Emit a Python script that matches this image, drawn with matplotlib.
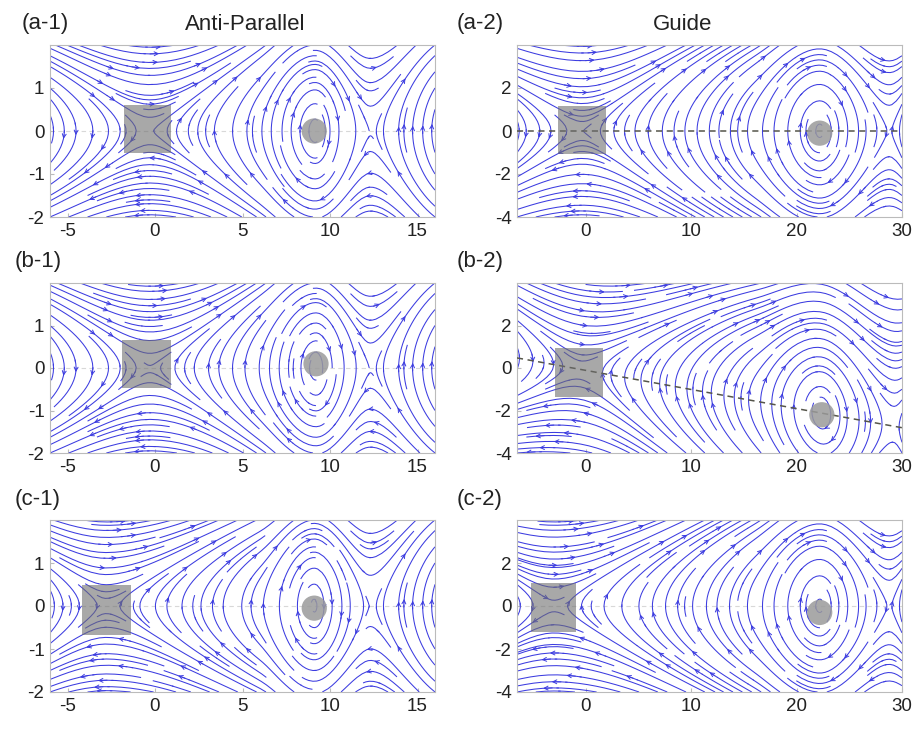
import numpy as np
import matplotlib.pyplot as plt
from matplotlib.patches import FancyArrowPatch

plt.rcParams['font.family'] = ['Liberation Sans', 'DejaVu Sans']
plt.rcParams['axes.unicode_minus'] = False

labels = [['(a-1)', '(a-2)'], ['(b-1)', '(b-2)'], ['(c-1)', '(c-2)']]
titles = ['Anti-Parallel', 'Guide']

# flux profile along the sheet.
# nodes: left O (off-panel), left X, island edge, O-point, right X, right O (off-panel)
node_x = [[[-13, -0.3, 6.0, 9.15, 12.3, 17.5], [-26, -0.3, 16.0, 22.2, 28.8, 36]],
          [[-13, -0.3, 6.1, 9.2, 12.3, 17.5], [-26, -0.5, 16.2, 22.4, 29.2, 36]],
          [[-15, -2.8, 6.0, 9.1, 12.3, 17.5], [-28, -3.0, 16.0, 22.2, 28.8, 36]]]
node_g = [[[-3.0, 0, -1.8, -3.4, -1.8, -4.5], [-14, 0, -13, -19.6, -13, -24]],
          [[-3.0, 0, -1.8, -3.4, -1.8, -4.5], [-14, 0, -13, -19.6, -13, -24]],
          [[-3.0, 0, -2.1, -3.7, -2.1, -4.8], [-14, 0, -13, -19.6, -13, -24]]]
node_s = [[[0, 0, -0.55, 0, 0, 0], [0, 0, -1.1, 0, 0, 0]],
          [[0, 0, -0.55, 0, 0, 0], [0, 0, -1.1, 0, 0, 0]],
          [[0, 0, -0.4, 0, 0, 0], [0, 0, -1.1, 0, 0, 0]]]
# line through the nulls: y = offset + slope * x
sheet_offset = [[0.0, 0.0], [0.0, -0.11], [0.0, 0.0]]
sheet_slope = [[0.0, 0.0], [0.0, -0.09], [0.0, 0.0]]
# gray boxes around the X-point: x0, x1, y0, y1
boxes = [[(-1.8, 0.9, -0.5, 0.6), (-2.6, 1.9, -1.07, 1.16)],
         [(-1.9, 0.9, -0.47, 0.66), (-2.9, 1.7, -1.36, 0.94)],
         [(-4.2, -1.4, -0.67, 0.49), (-5.2, -0.9, -1.2, 1.07)]]
# gray dots on the O-point
circles = [[(9.1, 0.0), (22.2, -0.1)],
           [(9.2, 0.1), (22.4, -2.2)],
           [(9.1, -0.05), (22.2, -0.3)]]

xlims = [(-6, 16), (-6.5, 30)]
ylims = [(-2, 2), (-4, 4)]
xticks = [[-5, 0, 5, 10, 15], [0, 10, 20, 30]]
yticks = [[-2, -1, 0, 1], [-4, -2, 0, 2]]

line_col = '#3c3ce0'


def profile_slope(x, nx, ng, ns):
    # derivative of a cubic Hermite profile through the nodes
    nx, ng, ns = (np.asarray(a, float) for a in (nx, ng, ns))
    i = np.clip(np.searchsorted(nx, x) - 1, 0, len(nx) - 2)
    h = nx[i + 1] - nx[i]
    t = np.clip((x - nx[i]) / h, 0, 1)
    d00 = 6 * t ** 2 - 6 * t
    d10 = 3 * t ** 2 - 4 * t + 1
    d11 = 3 * t ** 2 - 2 * t
    return (d00 * ng[i] + d10 * h * ns[i] - d00 * ng[i + 1] + d11 * h * ns[i + 1]) / h


def add_arrows(ax, sp, step_px=120):
    # rebuild whole streamlines from the collection and put several arrows on each
    segs = [np.asarray(s) for s in sp.lines.get_segments() if len(s) > 1]
    if not segs:
        return
    trajs = []
    cur = list(segs[0])
    for s in segs[1:]:
        if np.allclose(s[0], cur[-1]):
            cur.extend(s[1:])
        else:
            trajs.append(np.array(cur))
            cur = list(s)
    trajs.append(np.array(cur))
    for t in trajs:
        pix = ax.transData.transform(t)
        d = np.concatenate([[0], np.cumsum(np.hypot(*np.diff(pix, axis=0).T))])
        total = d[-1]
        if total < 40:
            continue
        n = max(1, int(round(total / step_px)))
        for j in range(n):
            target = total * (j + 0.5) / n
            i = min(np.searchsorted(d, target), len(t) - 2)
            ax.add_patch(FancyArrowPatch(t[i], t[i + 1], arrowstyle='->', mutation_scale=7,
                                         shrinkA=0, shrinkB=0, color=line_col, lw=0.7, zorder=2))


fig = plt.figure(figsize=(9.17, 7.29), dpi=100)
W, H = 917, 729
col_x = [50, 517]
row_y = [(45, 217), (283, 453), (520, 692)]
aw = 385

for r in range(3):
    for c in range(2):
        top, bot = row_y[r]
        ax = fig.add_axes([col_x[c] / W, 1 - bot / H, aw / W, (bot - top) / H])
        ax.set_xlim(*xlims[c])
        ax.set_ylim(*ylims[c])
        x = np.linspace(*xlims[c], 360)
        y = np.linspace(*ylims[c], 180)
        X, Y = np.meshgrid(x, y)
        gp = profile_slope(x, node_x[r][c], node_g[r][c], node_s[r][c])
        L = sheet_offset[r][c] + sheet_slope[r][c] * X
        U = Y - L
        V = U * sheet_slope[r][c] - gp[None, :]
        sp = ax.streamplot(x, y, U, V, density=(1.4, 1.1), color=line_col, linewidth=0.75,
                           arrowstyle='-', arrowsize=0.01, zorder=2)
        ax.set_xlim(*xlims[c])
        ax.set_ylim(*ylims[c])
        add_arrows(ax, sp)

        # dashed line along the sheet
        xs = np.array(xlims[c])
        ys = sheet_offset[r][c] + sheet_slope[r][c] * xs
        if c == 1 and r < 2:
            ax.plot(xs, ys, ls=(0, (4, 3)), color='#55554a', lw=1.1, zorder=3)
        else:
            ax.plot(xs, ys, ls=(0, (4, 3)), color='#d8d8d8', lw=0.8, zorder=1)

        x0, x1, y0, y1 = boxes[r][c]
        ax.add_patch(plt.Rectangle((x0, y0), x1 - x0, y1 - y0, facecolor='#6e6e6e',
                                   alpha=0.6, edgecolor='none', zorder=4))
        cx, cy = circles[r][c]
        ax.scatter([cx], [cy], s=330, color='#9a9a9a', alpha=0.85, edgecolors='none', zorder=5)

        ax.set_xlim(*xlims[c])
        ax.set_ylim(*ylims[c])
        ax.set_xticks(xticks[c])
        ax.set_yticks(yticks[c])
        ax.tick_params(direction='in', length=3, color='#bbbbbb', labelsize=13.5,
                       labelcolor='#222222', pad=4)
        for s in ax.spines.values():
            s.set_color('#bbbbbb')
            s.set_linewidth(0.8)

label_pos = [[(22, 24), (457, 24)], [(15, 262), (457, 262)], [(15, 500), (457, 500)]]
for r in range(3):
    for c in range(2):
        px, py = label_pos[r][c]
        fig.text(px / W, 1 - py / H, labels[r][c], fontsize=16, ha='left', va='center', color='#222222')

fig.text(245 / W, 1 - 25 / H, titles[0], fontsize=16, ha='center', va='center', color='#222222')
fig.text(683 / W, 1 - 25 / H, titles[1], fontsize=16, ha='center', va='center', color='#222222')

fig.savefig('out.png', dpi=100, facecolor='white')
